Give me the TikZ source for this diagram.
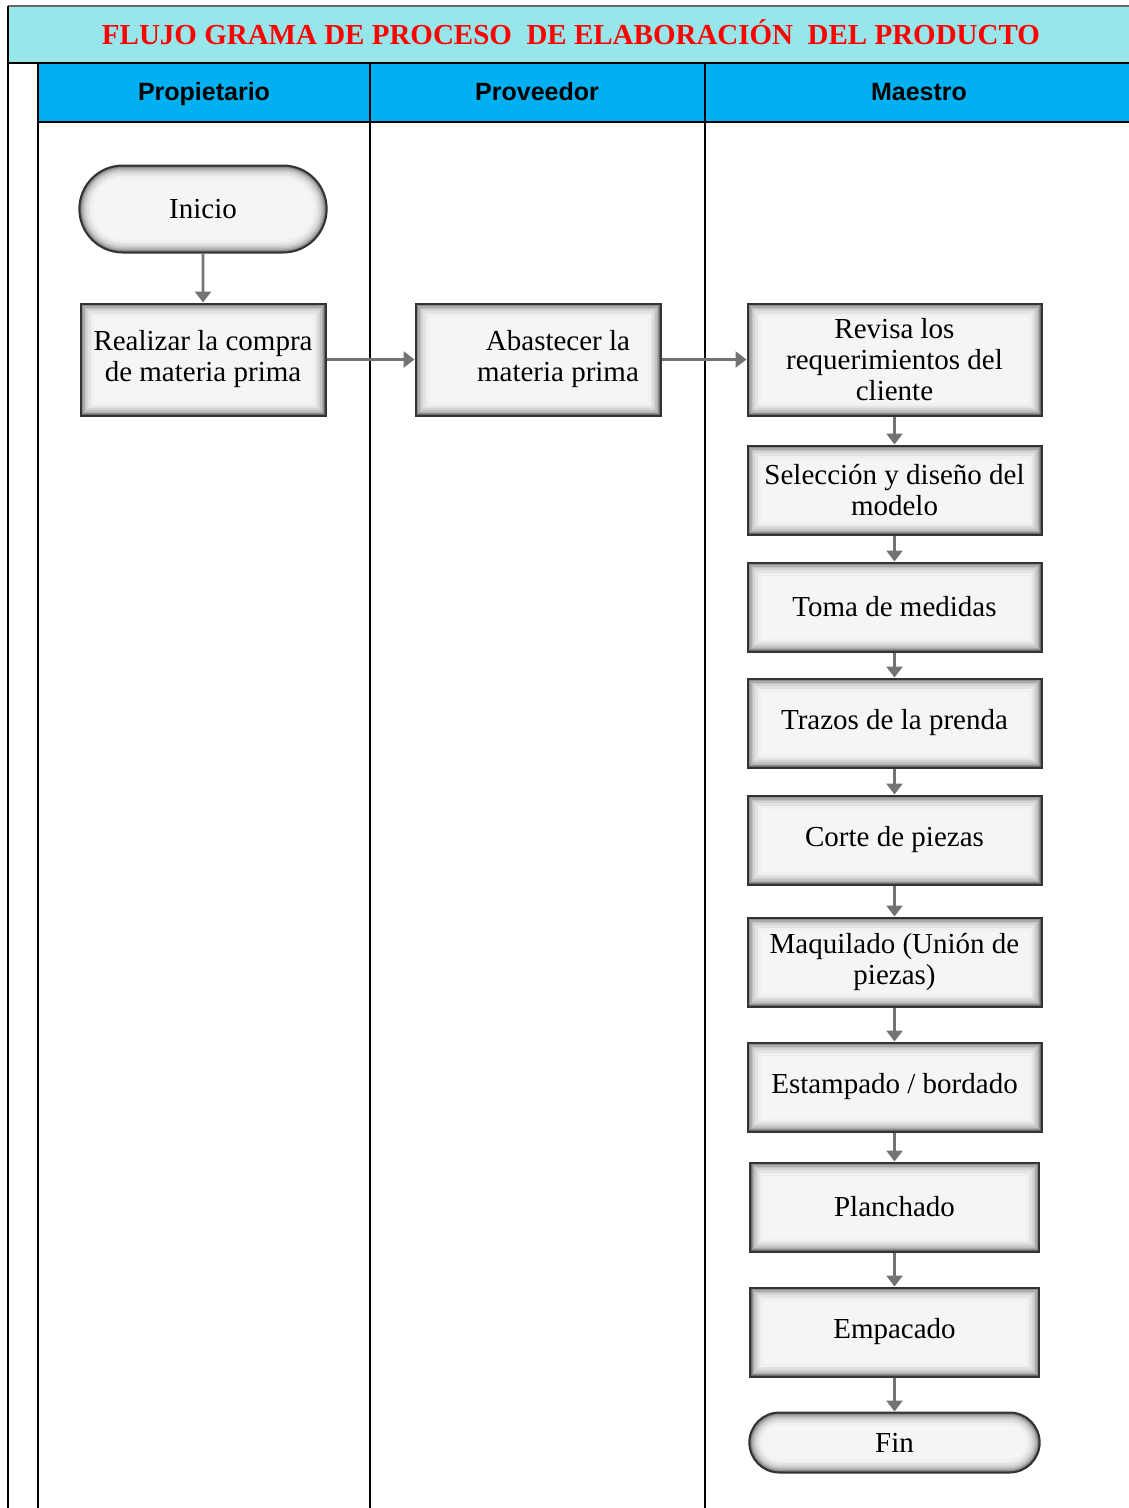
\documentclass[tikz,border=0pt]{standalone}
\usepackage{fontspec}
\setmainfont{Liberation Serif}
\newfontfamily\headfont{Liberation Sans}
\usepackage{xcolor}
\definecolor{titlecyan}{HTML}{96E6EA}
\definecolor{headblue}{HTML}{00B0F0}
\usetikzlibrary{shapes.misc,positioning,arrows.meta}

\begin{document}
\begin{tikzpicture}[x=1pt, y=-1pt,
    glow/.style={path picture={
        \foreach \w/\c in {26/6,20/11,15/17,11/24,8/33,5/44,3/58}
            \draw[black!\c, line width=\w pt, rounded corners=#1] (path picture bounding box.south west) rectangle (path picture bounding box.north east);}},
    proc/.style={draw=black!80, line width=2pt, fill=black!4, rectangle, glow=0pt, align=center,
        minimum width=294pt, minimum height=89pt, font=\fontsize{29}{31}\selectfont},
    term/.style={draw=black!80, line width=2pt, fill=black!4, rounded rectangle, align=center,
        font=\fontsize{29}{31}\selectfont},
    lane/.style={anchor=base, font=\headfont\bfseries\fontsize{25}{28}\selectfont},
    flow/.style={draw=black!55, line width=2.8pt, -{Triangle[width=16pt,length=11pt]}}
]
    \useasboundingbox (0,0) rectangle (1129,1508);
    \fill[titlecyan] (8,6) rectangle (1129,63);
    \fill[headblue] (38,63) rectangle (1129,122);
    \draw[black!60, line width=1.5pt] (8,6) -- (1129,6);
    \draw[line width=1.5pt] (8,6) -- (8,1508) (8,63) -- (1129,63) (38,122) -- (1129,122);
    \foreach \x in {38,370,705}
        \draw[line width=1.5pt] (\x,63) -- (\x,1508);

    \node [font=\bfseries\fontsize{29}{34}\selectfont, text=red] (title) at (571,32) {FLUJO GRAMA DE PROCESO\ \ DE ELABORACIÓN\ \ DEL PRODUCTO};
    \node [lane] (prop) at (204,100) {Propietario};
    \node [lane] (prov) at (537,100) {Proveedor};
    \node [lane] (maes) at (919,100) {Maestro};

    \node [term, minimum width=254pt, minimum height=87pt, glow=43pt] (inicio) at (203,209) {Inicio};
    \node [proc, minimum width=245pt, minimum height=112pt, below=49pt of inicio] (compra) {Realizar la compra\\de materia prima};
    \node [proc, minimum width=245pt, minimum height=112pt, right=88pt of compra] (abast) {\hspace*{40pt}Abastecer la\\\hspace*{40pt}materia prima};
    \node [proc, minimum height=112pt, right=85pt of abast] (revisa) {Revisa los\\requerimientos del\\cliente};
    \node [proc, below=28pt of revisa] (selec) {Selección y diseño del\\modelo};
    \node [proc, below=26pt of selec] (toma) {Toma de medidas};
    \node [proc, below=25pt of toma] (trazos) {Trazos de la prenda};
    \node [proc, below=26pt of trazos] (corte) {Corte de piezas};
    \node [proc, below=31pt of corte] (maqui) {Maquilado (Unión de\\piezas)};
    \node [proc, below=34pt of maqui] (estam) {Estampado / bordado};
    \node [proc, minimum width=289pt, below=29pt of estam] (planch) {Planchado};
    \node [proc, minimum width=289pt, below=34pt of planch] (empac) {Empacado};
    \node [term, minimum width=297pt, minimum height=60pt, glow=30pt, below=34pt of empac] (fin) {Fin};

    \draw [flow] (inicio) -- (compra);
    \draw [flow] (compra) -- (abast);
    \draw [flow] (abast) -- (revisa);
    \foreach \a/\b in {revisa/selec, selec/toma, toma/trazos, trazos/corte, corte/maqui,
        maqui/estam, estam/planch, planch/empac, empac/fin}
        \draw [flow] (\a) -- (\b);
\end{tikzpicture}
\end{document}
